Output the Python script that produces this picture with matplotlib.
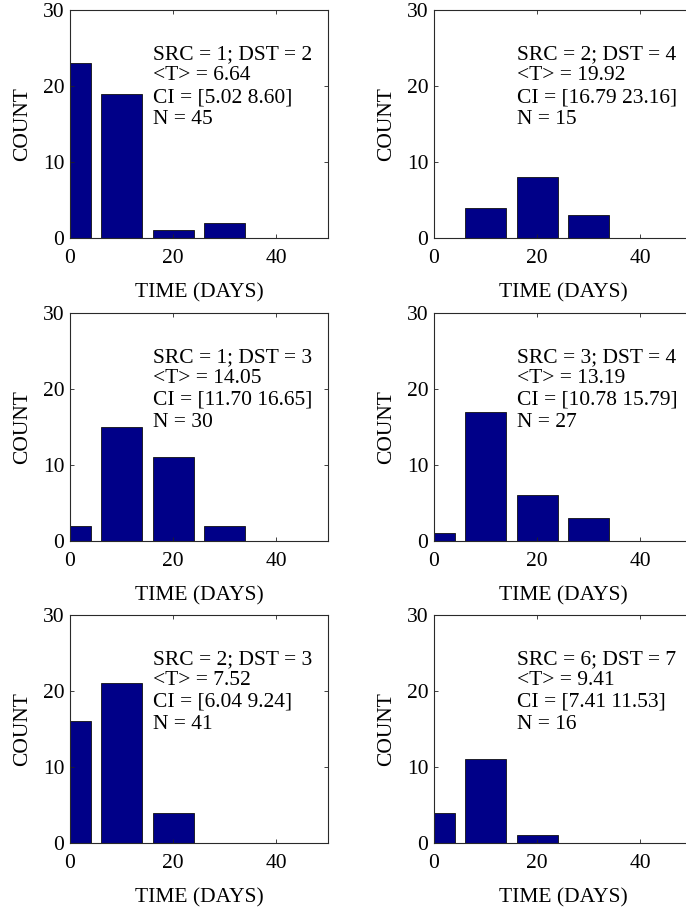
import numpy as np
import matplotlib
matplotlib.use('Agg')
import matplotlib.pyplot as plt

plt.rcParams['font.family'] = ['Liberation Serif', 'DejaVu Serif']
plt.rcParams['font.size'] = 15.5

# histogram bin centres (days) and counts per panel
centers = [0, 10, 20, 30, 40]
counts_12 = [23, 19, 1, 2, 0]
counts_24 = [0, 4, 8, 3, 0]
counts_13 = [2, 15, 11, 2, 0]
counts_34 = [1, 17, 6, 3, 0]
counts_23 = [16, 21, 4, 0, 0]
counts_67 = [4, 11, 1, 0, 0]

src = [1, 2, 1, 3, 2, 6]
dst = [2, 4, 3, 4, 3, 7]
mean_t = ['6.64', '19.92', '14.05', '13.19', '7.52', '9.41']
ci = ['[5.02 8.60]', '[16.79 23.16]', '[11.70 16.65]', '[10.78 15.79]', '[6.04 9.24]', '[7.41 11.53]']
n_obs = [45, 15, 30, 27, 41, 16]

all_counts = [counts_12, counts_24, counts_13, counts_34, counts_23, counts_67]

W, H = 686, 917
fig = plt.figure(figsize=(W/100, H/100), dpi=100)

lefts = [70, 434]
tops = [10, 313, 615]
aw, ah = 258, 228

for k in range(6):
    r, c = k // 2, k % 2
    x0, y0 = lefts[c], tops[r]
    ax = fig.add_axes([x0/W, 1 - (y0+ah)/H, aw/W, ah/H])
    ax.bar(centers, all_counts[k], width=8, color='#000088', edgecolor='#111111', linewidth=0.6)
    ax.set_xlim(0, 50)
    ax.set_ylim(0, 30)
    ax.set_xticks([0, 20, 40])
    ax.set_yticks([0, 10, 20, 30])
    ax.tick_params(direction='in', top=True, right=True, length=3, width=0.6, colors='#222222', labelcolor='black')
    ax.tick_params(axis='x', pad=8)
    ax.tick_params(axis='y', pad=4)
    for s in ax.spines.values():
        s.set_linewidth(0.8)
        s.set_color('#2a2a2a')
    ax.set_xlabel('TIME (DAYS)', labelpad=11, fontsize=15.5)
    ax.set_ylabel('COUNT', labelpad=8, fontsize=15.5)
    txt = 'SRC = %d; DST = %d\n<T> = %s\nCI = %s\nN = %d' % (src[k], dst[k], mean_t[k], ci[k], n_obs[k])
    ax.text(16, 25.4, txt, va='top', ha='left', linespacing=1.18, fontsize=15.5)

fig.savefig('out.png', dpi=100)
